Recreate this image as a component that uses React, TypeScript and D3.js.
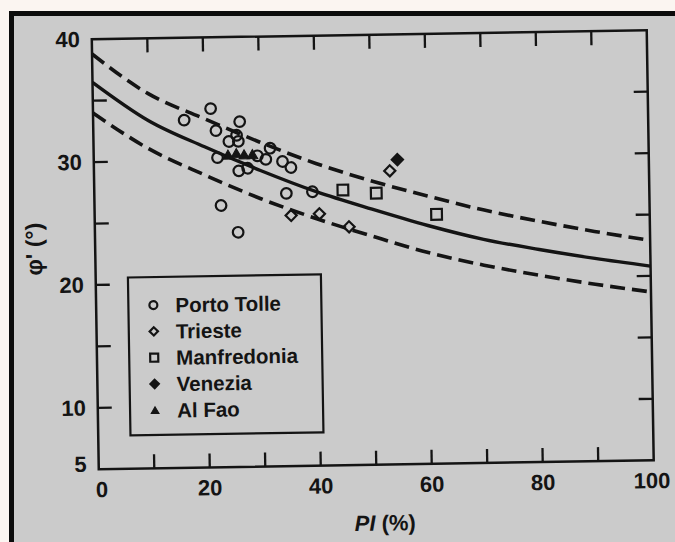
import React from 'react';
import * as d3 from 'd3';

// fitted curve (mean) and the two bounds
const CURVE_PI = [0, 10, 20, 30, 40, 50, 60, 70, 80, 90, 100];
const MEAN_PHI = [36.5, 33.3, 31.1, 29.1, 27.3, 25.8, 24.4, 23.2, 22.3, 21.5, 20.8];
const UPPER_PHI = [38.8, 35.5, 33.4, 31.4, 29.6, 28.1, 26.8, 25.6, 24.6, 23.7, 22.9];
const LOWER_PHI = [34.0, 31.0, 28.8, 26.8, 25.1, 23.6, 22.2, 21.1, 20.2, 19.4, 18.7];

// [PI, phi'] per site
const PORTO_TOLLE = [
  [21.2, 34.2], [16.4, 33.3], [26.4, 33.1], [22.1, 32.4], [25.8, 32.0],
  [24.4, 31.5], [26.1, 31.5], [22.3, 30.2], [31.8, 30.9], [29.5, 30.3],
  [31.0, 30.0], [34.0, 29.8], [35.5, 29.3], [26.1, 29.1], [27.7, 29.3],
  [34.6, 27.2], [39.3, 27.3], [22.8, 26.3], [25.8, 24.1],
];
const TRIESTE = [[35.4, 25.4], [40.5, 25.5], [45.8, 24.4], [53.3, 28.9]];
const MANFREDONIA = [[44.8, 27.4], [50.8, 27.1], [61.6, 25.3]];
const VENEZIA = [[54.7, 29.8]];
const AL_FAO = [[24.2, 30.4], [25.7, 30.5], [27.1, 30.4], [28.6, 30.4]];

const LEGEND = ['Porto Tolle', 'Trieste', 'Manfredonia', 'Venezia', 'Al Fao'];

const X_LABELS = [0, 20, 40, 60, 80, 100];
const X_TICKS = [10, 20, 30, 40, 50, 60, 70, 80, 90];
const Y_LABELS = [5, 10, 20, 30, 40];
const Y_TICKS = [10, 15, 20, 25, 30, 35];

const INK = '#141414';
const PAPER = '#cbcbcb';
const FONT = '"Liberation Sans", Arial, sans-serif';

function marker(kind: string, px: number, py: number, big: boolean, key: string) {
  const s = big ? 1 : 0.75;
  const sw = 2.2;
  if (kind === 'circle')
    return <circle key={key} cx={px} cy={py} r={5.3 * s} fill="none" stroke={INK} strokeWidth={sw} />;
  if (kind === 'square')
    return <path key={key} d={d3.symbol(d3.symbolSquare, 115 * s * s)()!} transform={`translate(${px},${py})`}
      fill="none" stroke={INK} strokeWidth={sw} />;
  if (kind === 'diamond' || kind === 'fdiamond')
    return <path key={key} d={d3.symbol(d3.symbolSquare, 62 * s * s)()!} transform={`translate(${px},${py}) rotate(45)`}
      fill={kind === 'fdiamond' ? INK : 'none'} stroke={INK} strokeWidth={sw} />;
  return <path key={key} d={d3.symbol(d3.symbolTriangle, 48 * s * s)()!} transform={`translate(${px},${py + 1})`}
    fill={INK} stroke={INK} strokeWidth={1} />;
}

export default function App() {
  const W = 675;
  const H = 542;
  const left = 95.25, right = 650.25, top = 34.75, bottom = 464.75;
  const cx = (left + right) / 2;
  const cy = (top + bottom) / 2;

  const x = d3.scaleLinear().domain([0, 100]).range([left, right]);
  const y = d3.scaleLinear().domain([5, 40]).range([bottom, top]);

  const curve = (vals: number[]) =>
    d3.line<number>()
      .x((_, i) => x(CURVE_PI[i]))
      .y(d => y(d))
      .curve(d3.curveMonotoneX)(vals)!;

  const series: [string, number[][]][] = [
    ['circle', PORTO_TOLLE],
    ['diamond', TRIESTE],
    ['square', MANFREDONIA],
    ['fdiamond', VENEZIA],
    ['triangle', AL_FAO],
  ];

  const tick = 14;
  const lg = { x: 127.5, y: 273.5, w: 193, h: 158, row: 26.3 };

  return (
    <svg width={W} height={H} style={{ position: 'absolute', left: 0, top: 0 }} fontFamily={FONT}>
      <rect width={W} height={H} fill="#fbf5f1" />
      <rect x={11.5} y={13.5} width={700} height={600} fill={PAPER} stroke="#0c0c0c" strokeWidth={5} />

      <g transform={`rotate(-0.93, ${cx}, ${cy})`}>
        <defs>
          <clipPath id="plot-clip">
            <rect x={left} y={top} width={right - left} height={bottom - top} />
          </clipPath>
        </defs>

        {/* curves */}
        <g clipPath="url(#plot-clip)" fill="none" stroke={INK}>
          <path d={curve(UPPER_PHI)} strokeWidth={3.6} strokeDasharray="15,7" />
          <path d={curve(MEAN_PHI)} strokeWidth={3.4} />
          <path d={curve(LOWER_PHI)} strokeWidth={3.6} strokeDasharray="15,7" />
        </g>

        {/* frame + ticks */}
        <rect x={left} y={top} width={right - left} height={bottom - top} fill="none" stroke={INK} strokeWidth={2.5} />
        {X_TICKS.map(t => (
          <g key={`xt${t}`} stroke={INK} strokeWidth={2.3}>
            <line x1={x(t)} x2={x(t)} y1={bottom} y2={bottom - tick} />
            <line x1={x(t)} x2={x(t)} y1={top} y2={top + tick} />
          </g>
        ))}
        {Y_TICKS.map(t => (
          <g key={`yt${t}`} stroke={INK} strokeWidth={2.3}>
            <line x1={left} x2={left + tick} y1={y(t)} y2={y(t)} />
            <line x1={right} x2={right - tick} y1={y(t)} y2={y(t)} />
          </g>
        ))}

        {/* tick labels */}
        {X_LABELS.map(t => (
          <text key={`xl${t}`} x={x(t) + (t === 0 ? 3 : t === 100 ? -2 : 0)} y={bottom + 28} textAnchor="middle"
            fontSize={22} fontWeight="bold" fill={INK}>{t}</text>
        ))}
        {Y_LABELS.map(t => (
          <text key={`yl${t}`} x={left - 12} y={y(t) - (t === 5 ? 5 : 0)} textAnchor="end" dominantBaseline="central"
            fontSize={22} fontWeight="bold" fill={INK}>{t}</text>
        ))}

        {/* axis titles */}
        <text x={cx + 8} y={bottom + 66} textAnchor="middle" fontSize={22} fontWeight="bold" fill={INK}>
          <tspan fontStyle="italic">PI</tspan> (%)
        </text>
        <text transform={`translate(42, ${y(23)}) rotate(-90)`} textAnchor="middle"
          fontSize={23} fontWeight="bold" fill={INK}>φ' (°)</text>

        {/* data */}
        {series.map(([kind, pts]) =>
          pts.map((d, i) => marker(kind, x(d[0]), y(d[1]), true, `${kind}${i}`))
        )}

        {/* legend */}
        <rect x={lg.x} y={lg.y} width={lg.w} height={lg.h} fill={PAPER} stroke={INK} strokeWidth={2.2} />
        {LEGEND.map((name, i) => {
          const ry = lg.y + 28 + i * lg.row;
          return (
            <g key={name}>
              {marker(series[i][0], lg.x + 25, ry, false, `lg${i}`)}
              <text x={lg.x + 47} y={ry} dominantBaseline="central" fontSize={20.5} fontWeight="bold" fill={INK}>{name}</text>
            </g>
          );
        })}
      </g>
    </svg>
  );
}
